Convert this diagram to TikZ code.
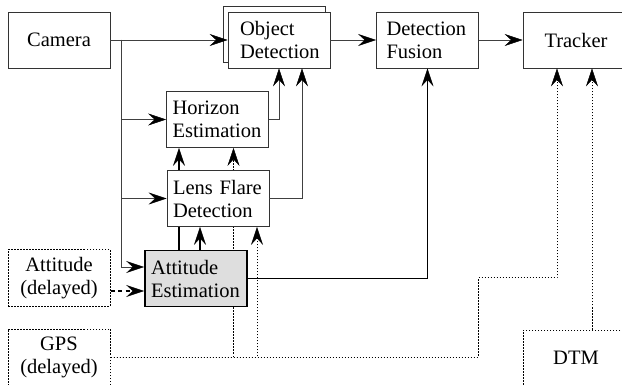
\documentclass[tikz,border=0pt]{standalone}
\usepackage{fontspec}
\setmainfont{Liberation Serif}
\usetikzlibrary{arrows.meta, positioning, calc, backgrounds, shadows}

\tikzset{
  block/.style={draw=black!80, fill=white, line width=0.8pt, minimum width=102pt, minimum height=56pt,
    text width=90pt, align=left, inner xsep=6pt, inner ysep=3pt, font=\fontsize{20.5}{23}\selectfont},
  srcbox/.style={block, draw=black, dash pattern=on 1.5pt off 1.5pt, line width=1pt, align=center},
  flow/.style={draw=black!75, line width=0.8pt, -{Stealth[length=18pt, width=12pt, inset=6.5pt, black, line width=0.5pt]}},
  thickflow/.style={flow, draw=black, line width=1.8pt},
  dashflow/.style={thickflow, dash pattern=on 4pt off 3.5pt},
  dotflow/.style={flow, draw=black, line width=1pt, dash pattern=on 1.5pt off 1.5pt},
}

\begin{document}
\begin{tikzpicture}[x=1pt, y=-1pt]
\useasboundingbox (0,0) rectangle (622,385);
\clip (0,0) rectangle (622,385);

% main pipeline
\node[block, align=center] (cam) at (59,40) {Camera};
\node[block, text width=78pt, inner xsep=12pt,
  copy shadow={shadow xshift=-5pt, shadow yshift=6pt, draw=black!80, line width=0.8pt}] (obj) at (279,40) {Object\\Detection};
\node[block, text width=82pt, inner xsep=10pt] (fus) at (427.5,40) {Detection\\Fusion};
\node[block, align=center, minimum width=106pt] (trk) at (576,40) {Tracker};

% estimation chain
\node[block] (hor) at (217.5,119.5) {Horizon\\Estimation};
\node[block] (flare) at (218,198.5) {Lens Flare\\Detection};
\node[block, fill=black!13, draw=black, line width=1.6pt] (att) at (196,278.5) {Attitude\\Estimation};

% external inputs
\node[srcbox] (attin) at (59,278) {Attitude\\(delayed)};
\node[srcbox] (gps) at (59,357) {GPS\\(delayed)};
\node[srcbox, minimum width=106pt] (dtm) at (576,358) {DTM};

% lines running behind the boxes
\begin{pgfonlayer}{background}
\draw[thickflow] ($(att.north)+(-17,0)$) -- ($(hor.south)+(-38.5,0)$);
\draw[dotflow] (gps.east) -| ($(hor.south)+(16,0)$);
\end{pgfonlayer}

\draw[flow] (cam.east) -- (obj.west);
\coordinate (split) at ($(cam.east)+(11,0)$);
\draw[flow] (split) |- (hor.west);
\draw[flow] (split) |- (flare.west);
\draw[flow] (split) |- ($(att.west)+(0,-11.5)$);

\draw[flow] (hor.east) -| (obj.south);
\draw[flow] (flare.east) -| ($(obj.south)+(23,0)$);
\draw[flow] (obj.east) -- (fus.west);
\draw[flow] (fus.east) -- (trk.west);

\draw[thickflow] ($(att.north)+(4,0)$) -- ($(flare.south)+(-18,0)$);
\draw[thickflow] (att.east) -| (fus.south);
\draw[dashflow] ($(attin.east)+(0,13)$) -- ($(att.west)+(0,12.5)$);

\draw[dotflow] (gps.east) -| ($(flare.south)+(39,0)$);
\draw[dotflow] (gps.east) -| ++(368,-79) -| ($(trk.south)+(-19,0)$);
\draw[dotflow] ($(dtm.north)+(16,0)$) -- ($(trk.south)+(16,0)$);
\end{tikzpicture}
\end{document}
